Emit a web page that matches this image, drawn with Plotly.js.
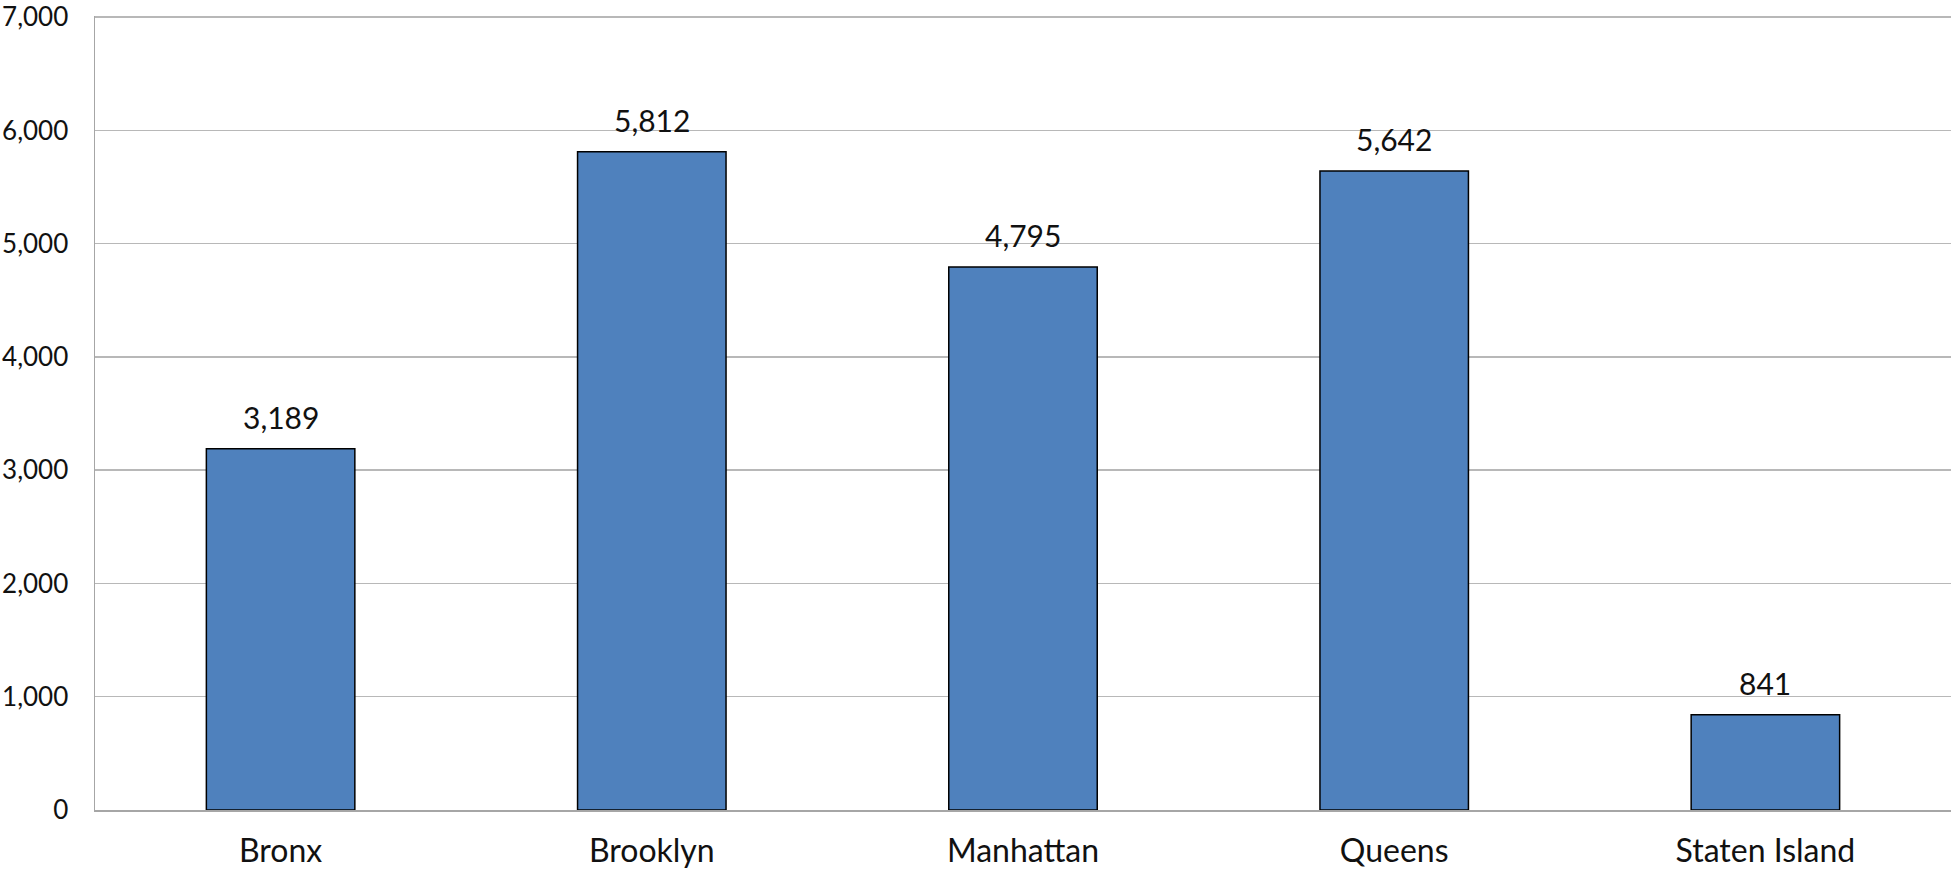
<!DOCTYPE html>
<html>
<head>
<meta charset="utf-8">
<script src="https://cdn.plot.ly/plotly-3.0.1.min.js"></script>
<style>
  html, body { margin: 0; padding: 0; background: #ffffff; }
  #chart { width: 1951px; height: 872px; }
</style>
</head>
<body>
<div id="chart"></div>
<script>
const boroughs = ["Bronx", "Brooklyn", "Manhattan", "Queens", "Staten Island"];
const counts = [3189, 5812, 4795, 5642, 841];
const yTickVals = [0, 1000, 2000, 3000, 4000, 5000, 6000, 7000];
const yTickText = ["0", "1,000", "2,000", "3,000", "4,000", "5,000", "6,000", "7,000"];

const fontFamily = "Lato, 'Open Sans', 'DejaVu Sans', sans-serif";
const textColor = "#111111";

const trace = {
  type: "bar",
  x: boroughs,
  y: counts,
  width: 0.4,
  marker: { color: "#4F81BD", line: { color: "#000000", width: 1.5 } },
  hoverinfo: "skip"
};

const annotations = boroughs.map((b, i) => ({
  x: b,
  y: counts[i],
  xref: "x",
  yref: "y",
  text: counts[i].toLocaleString("en-US"),
  showarrow: false,
  yanchor: "bottom",
  yshift: 12,
  font: { family: fontFamily, size: 30, color: textColor }
}));

const layout = {
  width: 1951,
  height: 872,
  margin: { l: 95, r: 0, t: 16, b: 62 },
  paper_bgcolor: "#ffffff",
  plot_bgcolor: "#ffffff",
  showlegend: false,
  font: { family: fontFamily, color: textColor },
  xaxis: {
    type: "category",
    showgrid: false,
    showline: true,
    linecolor: "#a6a6a6",
    linewidth: 1.5,
    ticks: "",
    tickfont: { family: fontFamily, size: 32, color: textColor },
    ticklabelstandoff: 12,
    fixedrange: true
  },
  yaxis: {
    range: [0, 7010],
    tickvals: yTickVals,
    ticktext: yTickText,
    showgrid: true,
    gridcolor: "#b8b8b8",
    gridwidth: 1.5,
    showline: true,
    linecolor: "#a6a6a6",
    linewidth: 1.5,
    zeroline: false,
    ticks: "",
    tickfont: { family: fontFamily, size: 26, color: textColor },
    ticklabelstandoff: 20,
    ticklabeloverflow: "allow",
    automargin: false,
    fixedrange: true
  },
  annotations: annotations
};

Plotly.newPlot("chart", [trace], layout, { displayModeBar: false, staticPlot: true });
</script>
</body>
</html>
